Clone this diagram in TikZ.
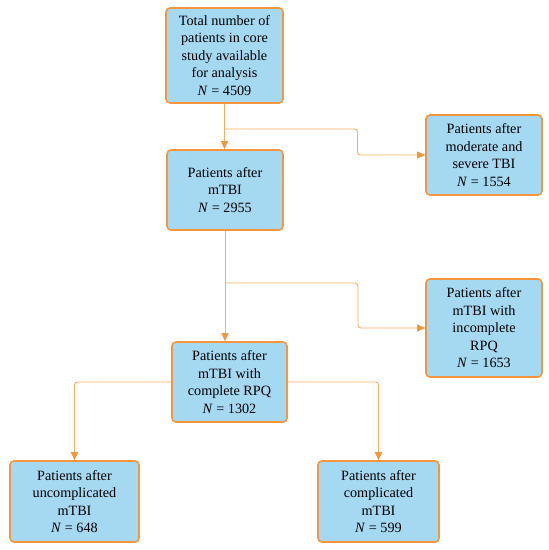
\documentclass[tikz,border=0pt]{standalone}
\usepackage{fontspec}
\setmainfont{Liberation Serif}
\usetikzlibrary{arrows.meta}
\definecolor{boxblue}{RGB}{165,216,241}
\definecolor{boxorange}{RGB}{245,150,60}
\definecolor{lineorange}{RGB}{248,172,92}

\begin{document}
\begin{tikzpicture}[x=1pt, y=-1pt,
    box/.style={draw=boxorange, fill=boxblue, line width=1.6pt, rounded corners=4pt,
      align=center, inner sep=2pt, font=\fontsize{14.2}{17.5}\selectfont},
    link/.style={draw=lineorange, line width=0.9pt, rounded corners=3pt,
      -{Triangle[length=8pt, width=7pt, color=boxorange]}}]
  \useasboundingbox (0,0) rectangle (549,550);

  % Boxes
  \node[box, minimum width=117pt, minimum height=95pt] (total) at (224.5,55.5)
    {Total number of\\patients in core\\study available\\for analysis\\\textit{N} = 4509};
  \node[box, minimum width=116pt, minimum height=80pt] (mtbi) at (225,190)
    {Patients after\\mTBI\\\textit{N} = 2955};
  \node[box, minimum width=116pt, minimum height=80pt] (severe) at (484,155)
    {Patients after\\moderate and\\severe TBI\\\textit{N} = 1554};
  \node[box, minimum width=116pt, minimum height=98pt] (rpqno) at (484,328)
    {Patients after\\mTBI with\\incomplete\\RPQ\\\textit{N} = 1653};
  \node[box, minimum width=115pt, minimum height=80pt] (rpqok) at (229.5,382)
    {Patients after\\mTBI with\\complete RPQ\\\textit{N} = 1302};
  \node[box, minimum width=129pt, minimum height=81pt] (uncompl) at (74.5,501.5)
    {Patients after\\uncomplicated\\mTBI\\\textit{N} = 648};
  \node[box, minimum width=121pt, minimum height=81pt] (compl) at (378.5,501.5)
    {Patients after\\complicated\\mTBI\\\textit{N} = 599};

  % Split points
  \coordinate (split1) at (total.south |- 0,129);
  \coordinate (bend1) at (357.5,129);
  \coordinate (split2) at (mtbi.south |- 0,283);
  \coordinate (bend2) at (358,283);

  % Connectors
  \draw[link] (total.south) -- (total.south |- mtbi.north);
  \draw[link] (split1) -- (bend1) |- (severe.west);
  \draw[link] (mtbi.south) -- (mtbi.south |- rpqok.north);
  \draw[link] (split2) -- (bend2) |- (rpqno.west);
  \draw[link] (rpqok.west) -| (uncompl.north);
  \draw[link] (rpqok.east) -| (compl.north);
\end{tikzpicture}
\end{document}
